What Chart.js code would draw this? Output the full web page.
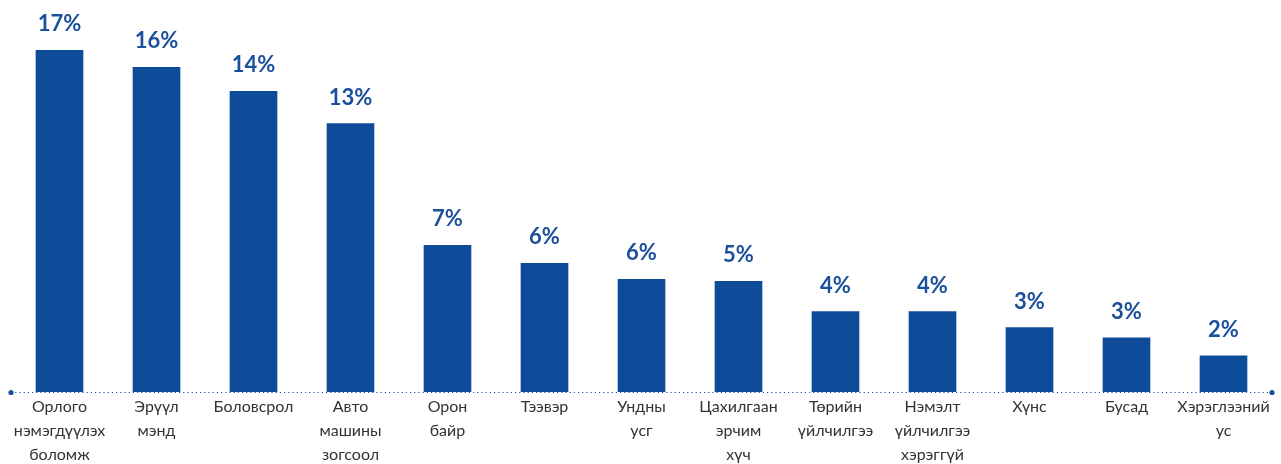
<!DOCTYPE html>
<html>
<head>
<meta charset="utf-8">
<script src="https://cdn.jsdelivr.net/npm/chart.js@4.4.1/dist/chart.umd.min.js"></script>
<style>
  html, body { margin: 0; padding: 0; background: #fff; }
  #wrap { width: 1281px; height: 464px; }
</style>
</head>
<body>
<div id="wrap"><canvas id="chartCanvas" width="1281" height="464"></canvas></div>
<script>
const categories = [
  ["Орлого", "нэмэгдүүлэх", "боломж"],
  ["Эрүүл", "мэнд"],
  ["Боловсрол"],
  ["Авто", "машины", "зогсоол"],
  ["Орон", "байр"],
  ["Тээвэр"],
  ["Ундны", "усг"],
  ["Цахилгаан", "эрчим", "хүч"],
  ["Төрийн", "үйлчилгээ"],
  ["Нэмэлт", "үйлчилгээ", "хэрэггүй"],
  ["Хүнс"],
  ["Бусад"],
  ["Хэрэглээний", "ус"]
];
// bar heights as drawn (share, %)
const values = [17.0, 16.15, 14.95, 13.35, 7.3, 6.4, 5.6, 5.5, 4.0, 4.0, 3.2, 2.7, 1.8];
// printed labels
const valueLabels = ["17%", "16%", "14%", "13%", "7%", "6%", "6%", "5%", "4%", "4%", "3%", "3%", "2%"];

const blue = "#0e4c9a";

// value labels above bars + dotted base line with end dots
const decorPlugin = {
  id: "decor",
  afterDatasetsDraw(chart) {
    const { ctx, chartArea } = chart;
    const meta = chart.getDatasetMeta(0);
    ctx.save();
    ctx.fillStyle = "#1a4f9c";
    ctx.font = "bold 22px Lato";
    ctx.textAlign = "center";
    ctx.textBaseline = "alphabetic";
    meta.data.forEach((bar, i) => {
      ctx.fillText(valueLabels[i], bar.x, bar.y - 19);
    });

    const y = chartArea.bottom + 0.5;
    ctx.strokeStyle = "#1a4f9c";
    ctx.lineWidth = 1.2;
    ctx.setLineDash([1.2, 3]);
    ctx.beginPath();
    ctx.moveTo(chartArea.left, y);
    ctx.lineTo(chartArea.right, y);
    ctx.stroke();
    ctx.setLineDash([]);
    ctx.fillStyle = "#1a4f9c";
    [chartArea.left, chartArea.right].forEach((x) => {
      ctx.beginPath();
      ctx.arc(x, y, 2.6, 0, Math.PI * 2);
      ctx.fill();
    });
    ctx.restore();
  }
};

const ctx = document.getElementById("chartCanvas").getContext("2d");
new Chart(ctx, {
  type: "bar",
  data: {
    labels: categories,
    datasets: [
      {
        data: values,
        backgroundColor: blue,
        borderWidth: 0,
        barThickness: 47,
        categoryPercentage: 1,
        barPercentage: 1
      }
    ]
  },
  options: {
    responsive: false,
    animation: false,
    layout: { padding: { left: 11, right: 9, top: 10, bottom: 0 } },
    plugins: { legend: { display: false }, tooltip: { enabled: false } },
    scales: {
      x: {
        grid: { display: false, drawTicks: false },
        border: { display: false },
        ticks: {
          color: "#333333",
          font: { family: "Lato", size: 16, lineHeight: "24px" },
          padding: 3,
          maxRotation: 0,
          autoSkip: false
        },
        afterFit(scale) { scale.height = 72; }
      },
      y: {
        display: false,
        min: 0,
        max: 19
      }
    }
  },
  plugins: [decorPlugin]
});
</script>
</body>
</html>
